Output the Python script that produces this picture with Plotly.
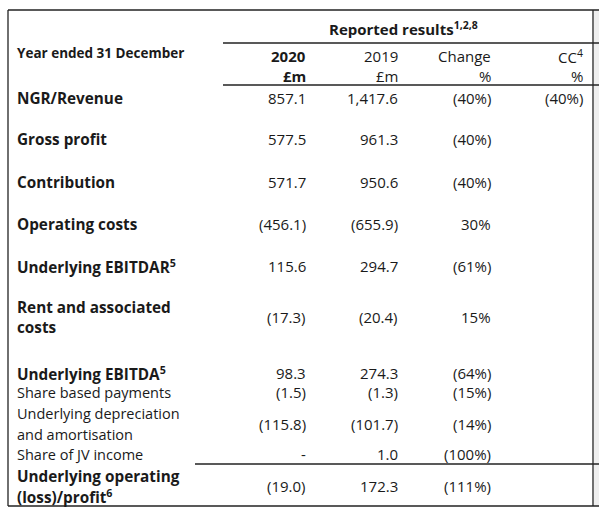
import plotly.graph_objects as go

# ---- data ----
row_labels = [
    "NGR/Revenue",
    "Gross profit",
    "Contribution",
    "Operating costs",
    "Underlying EBITDAR<sup>5</sup>",
    "Rent and associated\ncosts",
    "Underlying EBITDA<sup>5</sup>",
    "Share based payments",
    "Underlying depreciation\nand amortisation",
    "Share of JV income",
    "Underlying operating\n(loss)/profit<sup>6</sup>",
]
row_bold = [True, True, True, True, True, True, True, False, False, False, True]
values_2020 = ["857.1", "577.5", "571.7", "(456.1)", "115.6", "(17.3)", "98.3", "(1.5)", "(115.8)", "-", "(19.0)"]
values_2019 = ["1,417.6", "961.3", "950.6", "(655.9)", "294.7", "(20.4)", "274.3", "(1.3)", "(101.7)", "1.0", "172.3"]
change_pct = ["(40%)", "(40%)", "(40%)", "30%", "(61%)", "15%", "(64%)", "(15%)", "(14%)", "(100%)", "(111%)"]
cc_pct = ["(40%)", "", "", "", "", "", "", "", "", "", ""]

header_title = "Reported results<sup>1,2,8</sup>"
header_label = "Year ended 31 December"
col_heads = [("2020", "£m", True), ("2019", "£m", False), ("Change", "%", False), ("CC<sup>4</sup>", "%", False)]

# ---- layout constants ----
W, H = 599, 512
FONT = "Open Sans, Noto Sans, sans-serif"
TXT = "#1a1a1a"
FS_LABEL_B = 15.3
FS_LABEL = 14.5
FS_NUM = 15
row_y = [98, 139, 182, 224, 266, 317, 373, 392, 424, 454, 486]
line_gap = 20.5
col_x = [307, 399, 492, 584]
label_x = 16

fig = go.Figure()
ann = []

def add(x, y, text, bold=False, anchor="left", size=FS_NUM):
    if bold:
        text = "<b>" + text + "</b>"
    ann.append(dict(x=x, y=y, xref="x", yref="y", text=text, showarrow=False,
                    xanchor=anchor, yanchor="middle", borderpad=0,
                    font=dict(family=FONT, size=size, color=TXT)))

for i, lab in enumerate(row_labels):
    lines = lab.split("\n")
    n = len(lines)
    for k, ln in enumerate(lines):
        y = row_y[i] + (k - (n - 1) / 2) * line_gap
        add(label_x, y, ln, row_bold[i], size=FS_LABEL_B if row_bold[i] else FS_LABEL)
    for c, col in enumerate([values_2020, values_2019, change_pct, cc_pct]):
        if col[i]:
            add(col_x[c], row_y[i], col[i], anchor="right")

add(label_x, 53, header_label, True, size=13.5)
add(403, 28, header_title, True, anchor="center")
for c, (h1, h2, b) in enumerate(col_heads):
    add(col_x[c], 56, h1, b, anchor="right")
    add(col_x[c], 76, h2, b, anchor="right")

shapes = []
def line(x0, y0, x1, y1, color="#222"):
    shapes.append(dict(type="line", xref="paper", yref="paper",
                       x0=x0 / W, y0=1 - y0 / H, x1=x1 / W, y1=1 - y1 / H,
                       line=dict(color=color, width=1.3), layer="above"))

shapes.append(dict(type="rect", xref="paper", yref="paper", x0=594 / W, x1=1,
                   y0=1 - 506 / H, y1=1 - 10 / H,
                   fillcolor="#eeeeee", line=dict(width=0), layer="below"))
line(8, 10, 599, 10)           # top
line(8, 10, 8, 506)            # left
line(8, 506, 599, 506)         # bottom
line(593, 10, 593, 506)        # right
line(223, 43, 599, 43)
line(223, 85, 599, 85)
line(195, 464, 599, 464)

fig.update_layout(
    width=W, height=H, margin=dict(l=0, r=0, t=0, b=0, autoexpand=False),
    paper_bgcolor="white", plot_bgcolor="rgba(0,0,0,0)",
    xaxis=dict(range=[0, W], visible=False, fixedrange=True),
    yaxis=dict(range=[H, 0], visible=False, fixedrange=True),
    annotations=ann, shapes=shapes, showlegend=False,
)
fig.write_html("out.html", config={"displayModeBar": False},
               post_script="document.body.style.margin='0';document.body.style.overflow='hidden';")
